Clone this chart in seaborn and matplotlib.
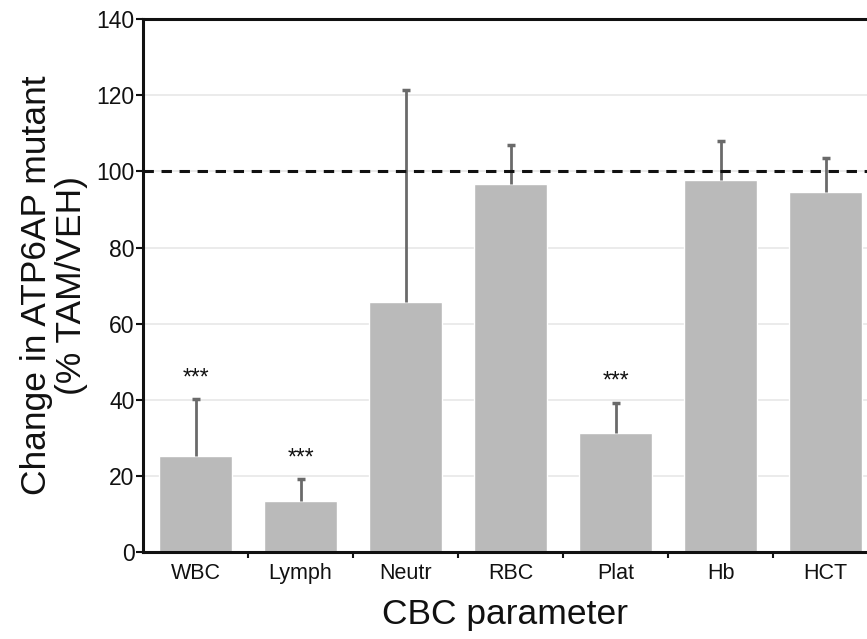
import matplotlib
matplotlib.use("Agg")
import matplotlib.pyplot as plt
import seaborn as sns
import pandas as pd
import numpy as np

categories = ["WBC", "Lymph", "Neutr", "RBC", "Plat", "Hb", "HCT"]
values = [25.2, 13.5, 65.7, 96.7, 31.3, 97.7, 94.6]
upper = [40.2, 19.1, 121.4, 106.9, 39.2, 107.9, 103.6]
significance = ["***", "***", "", "", "***", "", ""]
yticks = [0, 20, 40, 60, 80, 100, 120, 140]

sns.set_theme(style="white")
plt.rcParams["font.family"] = ["Liberation Sans", "DejaVu Sans"]
plt.rcParams["text.color"] = "#111111"
plt.rcParams["xtick.color"] = "#111111"
plt.rcParams["ytick.color"] = "#111111"
plt.rcParams["axes.labelcolor"] = "#111111"

df = pd.DataFrame({"param": categories, "value": values})

fig = plt.figure(figsize=(8.67, 6.39), dpi=100)
ax = fig.add_axes([0.165, 0.136, 0.835, 0.834])

for y in yticks[1:-1]:
    ax.axhline(y, color="#e8e8e8", lw=1.2, zorder=0)

sns.barplot(data=df, x="param", y="value", color="#bababa", saturation=1,
            width=0.70, ax=ax, zorder=2, errorbar=None)

x = np.arange(len(categories))
ax.vlines(x, values, upper, color="#6a6a6a", lw=2, zorder=3)
ax.scatter(x, upper, marker="_", s=40, color="#6a6a6a", linewidths=2.5, zorder=3)

ax.axhline(100, color="#111111", lw=2.2, ls=(0, (3.4, 2.5)), zorder=4)

for xi, u, s in zip(x, upper, significance):
    if s:
        ax.text(xi, u + 2.6, s, ha="center", va="bottom", fontsize=16.5)

ax.set_ylim(0, 140)
ax.set_xlim(-0.5, 6.395)
ax.set_yticks(yticks)
ax.set_yticklabels([str(t) for t in yticks], fontsize=16.5)
ax.tick_params(axis="x", labelsize=15.5, length=0, pad=8)
ax.tick_params(axis="y", length=5, width=1.5, direction="out", left=True, pad=1)
ax.set_xticks(np.arange(0.5, 6.5, 1), minor=True)
ax.tick_params(axis="x", which="minor", length=4, width=1.5, bottom=True, direction="out")

for side in ["left", "bottom", "top"]:
    ax.spines[side].set_color("#111111")
    ax.spines[side].set_linewidth(2.2)
ax.spines["right"].set_visible(False)

ax.set_xlabel("CBC parameter", fontsize=25.5, labelpad=10)
ax.set_ylabel("Change in ATP6AP mutant\n(% TAM/VEH)", fontsize=25.5, labelpad=6, linespacing=1.1)

fig.savefig("out.png", dpi=100)
